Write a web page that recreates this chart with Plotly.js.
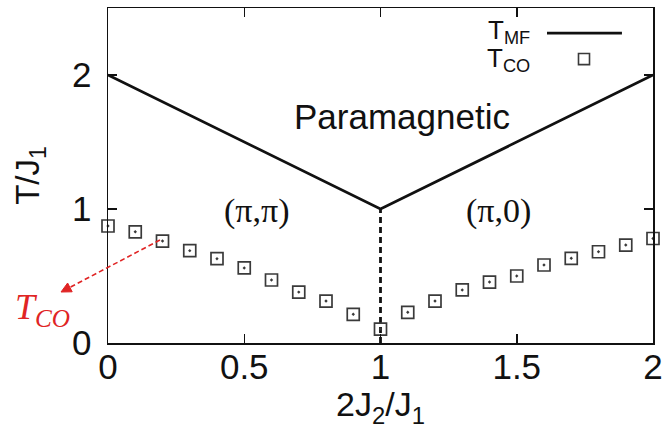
<!DOCTYPE html>
<html>
<head>
<meta charset="utf-8">
<script src="https://cdn.plot.ly/plotly-3.0.1.min.js"></script>
<style>html,body{margin:0;padding:0;background:#fff;}#chart{width:666px;height:429px;}</style>
</head>
<body>
<div id="chart"></div>
<script>
// Mean-field transition line T_MF
var mfX = [0, 1, 2];
var mfY = [2, 1, 2];
// Phase boundary (dashed vertical)
var boundaryX = [1, 1];
var boundaryY = [0, 1];
// T_CO points
var coX = [0, 0.1, 0.2, 0.3, 0.4, 0.5, 0.6, 0.7, 0.8, 0.9, 1.0,
           1.1, 1.2, 1.3, 1.4, 1.5, 1.6, 1.7, 1.8, 1.9, 2.0];
var coY = [0.873, 0.83, 0.761, 0.689, 0.629, 0.56, 0.47, 0.38, 0.313, 0.214, 0.104,
           0.229, 0.313, 0.396, 0.455, 0.50, 0.582, 0.632, 0.681, 0.731, 0.78];
var xTicks = [0, 0.5, 1, 1.5, 2];
var xTickText = ['0', '0.5', '1', '1.5', '2'];
var yTicks = [0, 1, 2];
var yTickText = ['0', '1', '2'];

var sans = 'Liberation Sans, Arial, sans-serif';
var serif = 'Liberation Serif, Times New Roman, serif';

var traces = [
  {x: mfX, y: mfY, mode: 'lines', line: {color: '#111', width: 2.8}, showlegend: false, hoverinfo: 'skip'},
  {x: boundaryX, y: boundaryY, mode: 'lines', line: {color: '#111', width: 2.8, dash: '6px,4px'}, showlegend: false, hoverinfo: 'skip'},
  {x: coX, y: coY, mode: 'markers', cliponaxis: false,
   marker: {symbol: 'square-open-dot', size: 12, color: '#3a3a3a', line: {width: 1.7, color: '#3a3a3a'}},
   showlegend: false}
];

var layout = {
  width: 666, height: 429,
  margin: {l: 108, r: 13, t: 8, b: 86},
  paper_bgcolor: '#fff', plot_bgcolor: '#fff',
  font: {family: sans, color: '#111', size: 34},
  xaxis: {
    range: [0, 2], tickvals: xTicks, ticktext: xTickText,
    ticks: 'inside', ticklen: 9, tickwidth: 1.5, tickcolor: '#111',
    showline: true, linecolor: '#111', linewidth: 1.5, mirror: 'ticks',
    showgrid: false, zeroline: false, ticklabelstandoff: -8,
    tickfont: {family: sans, size: 35, color: '#111'},
    title: {text: '2J<sub>2</sub>/J<sub>1</sub>', font: {family: sans, size: 34, color: '#111'}, standoff: 0}
  },
  yaxis: {
    range: [0, 2.5], tickvals: yTicks, ticktext: yTickText,
    ticks: 'inside', ticklen: 9, tickwidth: 1.5, tickcolor: '#111',
    showline: true, linecolor: '#111', linewidth: 1.5, mirror: 'ticks',
    showgrid: false, zeroline: false, ticklabelstandoff: 8,
    tickfont: {family: sans, size: 35, color: '#111'},
    title: {text: 'T/J<sub>1</sub>', font: {family: sans, size: 33, color: '#111'}, standoff: 22}
  },
  annotations: [
    {x: 1.08, y: 1.69, xref: 'x', yref: 'y', text: 'Paramagnetic', showarrow: false,
     font: {family: sans, size: 35, color: '#111'}},
    {x: 0.544, y: 0.985, xref: 'x', yref: 'y', text: '(π,π)', showarrow: false,
     font: {family: serif, size: 34, color: '#111'}},
    {x: 1.434, y: 0.985, xref: 'x', yref: 'y', text: '(π,0)', showarrow: false,
     font: {family: serif, size: 34, color: '#111'}},
    {x: -0.121, y: 0.1, xref: 'paper', yref: 'paper', text: '<i>T<sub>CO</sub></i>', showarrow: false,
     xanchor: 'center', yanchor: 'middle',
     font: {family: serif, size: 36, color: '#e02424'}},
    {x: 0.778, y: 0.93, xref: 'paper', yref: 'paper', text: 'T<sub>MF</sub>', showarrow: false,
     xanchor: 'right', yanchor: 'middle', font: {family: sans, size: 26, color: '#111'}},
    {x: 0.778, y: 0.847, xref: 'paper', yref: 'paper', text: 'T<sub>CO</sub>', showarrow: false,
     xanchor: 'right', yanchor: 'middle', font: {family: sans, size: 26, color: '#111'}}
  ],
  shapes: [
    // legend line sample
    {type: 'line', xref: 'paper', yref: 'paper', x0: 0.8055, x1: 0.943, y0: 0.925, y1: 0.925,
     line: {color: '#111', width: 2.8}},
    // legend square sample
    {type: 'rect', xref: 'paper', yref: 'paper', x0: 0.8633, x1: 0.8835, y0: 0.831, y1: 0.864,
     line: {color: '#3a3a3a', width: 1.6}},
    // red dashed arrow
    {type: 'line', xref: 'paper', yref: 'paper', x0: 0.0954, y0: 0.3075, x1: -0.0699, y1: 0.166,
     line: {color: '#e02424', width: 1.6, dash: '5px,3px'}},
    {type: 'path', xref: 'paper', yref: 'paper',
     path: 'M -0.0862 0.1522 L -0.0657 0.1528 L -0.0741 0.1791 Z',
     fillcolor: '#e02424', line: {color: '#e02424', width: 1}}
  ]
};

Plotly.newPlot('chart', traces, layout, {staticPlot: true, displayModeBar: false});
</script>
</body>
</html>
